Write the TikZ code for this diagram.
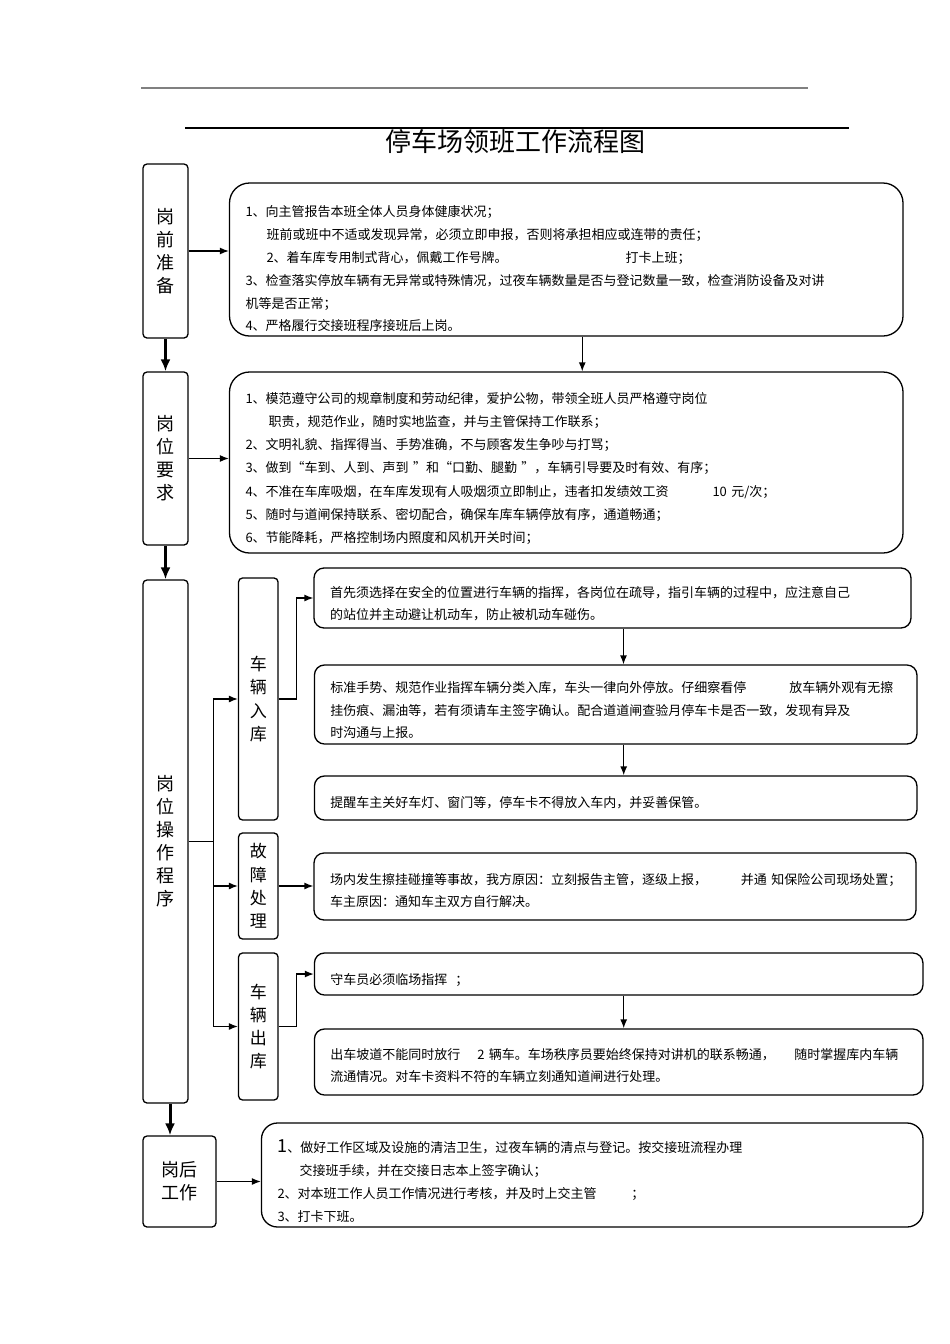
\documentclass[tikz,border=0pt]{standalone}
\usepackage{fontspec}
\setmainfont{Noto Sans CJK SC}
\usetikzlibrary{
    arrows.meta,
    calc,
    positioning
}
\tikzset{
    stage/.style={draw, line width=1.3pt, rounded corners=4pt, minimum width=45pt, inner sep=0pt, align=center, font=\fontsize{18pt}{23pt}\selectfont},
    substage/.style={draw, line width=1.3pt, rounded corners=4pt, minimum width=39.5pt, inner sep=0pt, align=center, font=\fontsize{17pt}{23.3pt}\selectfont},
    textbox/.style={draw, line width=1.3pt, rounded corners=10pt, inner xsep=16pt, inner ysep=2pt, align=left, font=\fontsize{13pt}{23pt}\selectfont},
    link/.style={line width=1.3pt, -{Latex[length=9pt,width=7pt]}},
    flow/.style={line width=3pt, -{Latex[length=12pt,width=10pt]}}
}

\begin{document}
\begin{tikzpicture}[x=1pt, y=-1pt]
    \useasboundingbox[fill=white] (0,0) rectangle (950,1344);
    \draw[gray, line width=2pt] (141,88) -- (808,88);
    \draw[line width=1.3pt] (185,128) -- (849,128);
    \node[font=\fontsize{26pt}{30pt}\selectfont] (title) at (515,142) {停车场领班工作流程图};

    \node[stage, minimum height=174pt] (pre) at (165.5,251) {岗\\前\\准\\备};
    \node[textbox, rounded corners=20pt, text width=641.5pt, minimum height=153pt, font=\fontsize{13pt}{22.8pt}\selectfont] (box1) at (566.25,259.5) {\rule{0pt}{30pt}1、向主管报告本班全体人员身体健康状况；\\
\hspace*{21pt}班前或班中不适或发现异常，必须立即申报，否则将承担相应或连带的责任；\\
\hspace*{21pt}\makebox[359pt][l]{2、着车库专用制式背心，佩戴工作号牌。}打卡上班；\\
3、检查落实停放车辆有无异常或特殊情况，过夜车辆数量是否与登记数量一致，检查消防设备及对讲\\
机等是否正常；\\
4、严格履行交接班程序接班后上岗。};

    \node[stage, minimum height=173pt] (req) at (165.5,458.5) {岗\\位\\要\\求};
    \node[textbox, rounded corners=20pt, text width=641.5pt, minimum height=181pt, font=\fontsize{13pt}{23.2pt}\selectfont] (box2) at (566.25,462.5) {\rule{0pt}{23pt}1、模范遵守公司的规章制度和劳动纪律，爱护公物，带领全班人员严格遵守岗位\\
\hspace*{23pt}职责，规范作业，随时实地监查，并与主管保持工作联系；\\
2、文明礼貌、指挥得当、手势准确，不与顾客发生争吵与打骂；\\
3、做到“车到、人到、声到 ”和“口勤、腿勤 ”，车辆引导要及时有效、有序；\\
\makebox[467pt][l]{4、不准在车库吸烟，在车库发现有人吸烟须立即制止，违者扣发绩效工资}10 元/次；\\
5、随时与道闸保持联系、密切配合，确保车库车辆停放有序，通道畅通；\\
6、节能降耗，严格控制场内照度和风机开关时间；};

    \node[stage, minimum height=523pt] (op) at (165.5,841.5) {岗\\位\\操\\作\\程\\序};
    \node[substage, minimum height=242pt] (carin) at (258.3,699) {车\\辆\\入\\库};
    \node[substage, minimum height=106pt] (fault) at (258.3,886) {故\\障\\处\\理};
    \node[substage, minimum height=147pt] (carout) at (258.3,1026.5) {车\\辆\\出\\库};

    \node[textbox, text width=565pt, minimum height=60pt, font=\fontsize{13pt}{22pt}\selectfont] (in1) at (612.5,598) {\rule{0pt}{23pt}首先须选择在安全的位置进行车辆的指挥，各岗位在疏导，指引车辆的过程中，应注意自己\\
的站位并主动避让机动车，防止被机动车碰伤。};
    \node[textbox, text width=570.5pt, minimum height=79pt, font=\fontsize{13pt}{22.5pt}\selectfont] (in2) at (615.7,704.5) {\rule{0pt}{23pt}\makebox[459pt][l]{标准手势、规范作业指挥车辆分类入库，车头一律向外停放。仔细察看停}放车辆外观有无擦\\
挂伤痕、漏油等，若有须请车主签字确认。配合道道闸查验月停车卡是否一致，发现有异及\\
时沟通与上报。};
    \node[textbox, text width=570.5pt, minimum height=44pt] (in3) at (615.7,798) {\rule{0pt}{21pt}提醒车主关好车灯、窗门等，停车卡不得放入车内，并妥善保管。};
    \node[textbox, text width=570pt, minimum height=67pt, font=\fontsize{13pt}{22pt}\selectfont] (fix1) at (615,886.5) {\rule{0pt}{20pt}\mbox{\makebox[411pt][l]{场内发生擦挂碰撞等事故，我方原因：立刻报告主管，逐级上报，}并通 知保险公司现场处置；}\\
车主原因：通知车主双方自行解决。};
    \node[textbox, text width=576.5pt, minimum height=42pt] (out1) at (618.7,974) {\rule{0pt}{23pt}守车员必须临场指挥\hspace{8pt}；};
    \node[textbox, text width=576.5pt, minimum height=66pt, font=\fontsize{13pt}{22pt}\selectfont] (out2) at (618.7,1062) {\rule{0pt}{19pt}\makebox[147pt][l]{出车坡道不能同时放行}\makebox[317pt][l]{2 辆车。车场秩序员要始终保持对讲机的联系畅通，}随时掌握库内车辆\\
流通情况。对车卡资料不符的车辆立刻通知道闸进行处理。};

    \node[stage, minimum width=73pt, minimum height=91pt] (post) at (179.5,1181.5) {岗后\\工作};
    \node[textbox, rounded corners=16pt, text width=629.5pt, minimum height=104pt] (box3) at (592.25,1175) {\rule{0pt}{26pt}{\fontsize{18pt}{18pt}\selectfont 1}、做好工作区域及设施的清洁卫生，过夜车辆的清点与登记。按交接班流程办理\\
\hspace*{22pt}交接班手续，并在交接日志本上签字确认；\\
\makebox[354pt][l]{2、对本班工作人员工作情况进行考核，并及时上交主管}；\\
3、打卡下班。};

    \coordinate (fork) at ($(op.east)+(25,0)$);
    \draw[link] (pre) -- (pre -| box1.west);
    \draw[link] ([xshift=16pt]box1.south) -- ([xshift=16pt]box1.south |- box2.north);
    \draw[flow] (pre) -- (req);
    \draw[link] (req) -- (req -| box2.west);
    \draw[flow] (req) -- (op);
    \draw[line width=1.3pt] (op.east) -- (fork);
    \draw[link] (fork) |- (carin.west);
    \draw[link] (fork) |- (fault.west);
    \draw[link] (fork) |- (carout.west);
    \draw[link] (carin.east) -- ++(18,0) |- (in1.west);
    \draw[link] ([xshift=11pt]in1.south) -- ([xshift=11pt]in1.south |- in2.north);
    \draw[link] ([xshift=8pt]in2.south) -- ([xshift=8pt]in2.south |- in3.north);
    \draw[link] (fault) -- (fault -| fix1.west);
    \draw[link] (carout.east) -- ++(18,0) |- (out1.west);
    \draw[link] ([xshift=5pt]out1.south) -- ([xshift=5pt]out1.south |- out2.north);
    \draw[flow] ([xshift=4.5pt]op.south) -- ([xshift=4.5pt]op.south |- post.north);
    \draw[link] (post) -- (post -| box3.west);
\end{tikzpicture}
\end{document}
